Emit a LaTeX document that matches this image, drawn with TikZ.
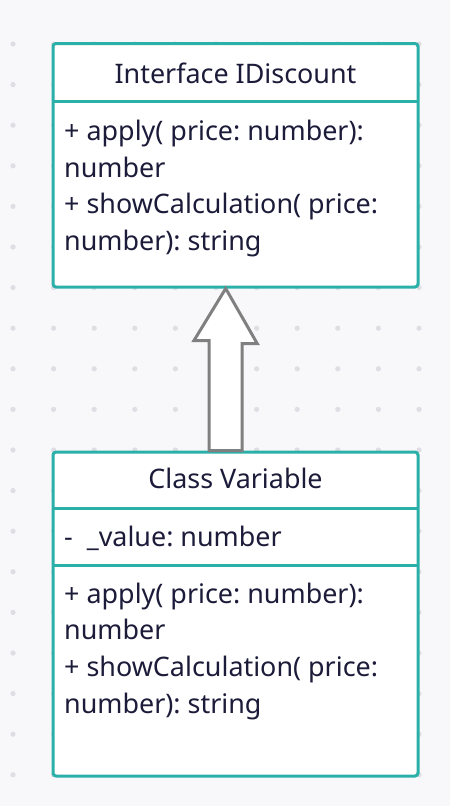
\documentclass[tikz,border=0pt]{standalone}
\usepackage{fontspec}
\setmainfont{Noto Sans}
\usetikzlibrary{calc}
\frenchspacing
\definecolor{bgc}{HTML}{F8F8FA}
\definecolor{dotc}{HTML}{DEDEE4}
\definecolor{teal}{HTML}{2BB0A9}
\definecolor{txt}{HTML}{1C1C3A}
\definecolor{arrowc}{HTML}{808080}
\tikzset{
  umlbox/.style={draw=teal, line width=3pt, fill=white, rounded corners=3pt, inner sep=0pt},
  divider/.style={draw=teal, line width=3pt},
  hdr/.style={font=\fontsize{26.9}{32}\selectfont\frenchspacing, text=txt, anchor=base, inner sep=0pt},
  body/.style={font=\fontsize{26.9}{32}\selectfont\frenchspacing, text=txt, anchor=base west, inner sep=0pt},
  blockarrow/.style={draw=arrowc, line width=3pt, fill=white, line join=miter},
}
\begin{document}
\begin{tikzpicture}[x=1pt,y=-1pt]
\fill[bgc] (0,0) rectangle (450,806);
\useasboundingbox (0,0) rectangle (450,806);
\foreach \i in {0,...,10}{
  \foreach \j in {0,...,18}{
    \fill[dotc] ({13+40.6*\i},{44+40.6*\j}) circle (2.6pt);
  }
}
% interface box
\node[umlbox, minimum width=365pt, minimum height=243.5pt] (iface) at (235.5,165.25) {};
\coordinate (ifdivL) at (53,101);
\coordinate (ifdivR) at (418,101);
\draw[divider] (ifdivL) -- (ifdivR);
\node[hdr] (ifname) at (235.5,83) {Interface IDiscount};
\node[body] (if1) at (64,140) {+ apply( price: number):};
\node[body] (if2) at (64,177) {number};
\node[body] (if3) at (64,213.5) {+ showCalculation( price:};
\node[body] (if4) at (64,250) {number): string};
% class box
\node[umlbox, minimum width=365pt, minimum height=324pt] (cls) at (235.5,614) {};
\coordinate (cdiv1L) at (53,508);
\coordinate (cdiv1R) at (418,508);
\coordinate (cdiv2L) at (53,565);
\coordinate (cdiv2R) at (418,565);
\draw[divider] (cdiv1L) -- (cdiv1R);
\draw[divider] (cdiv2L) -- (cdiv2R);
\node[hdr] (clsname) at (235.5,488) {Class Variable};
\node[body] (attr) at (64,546) {-\ \ \_value: number};
\node[body] (c1) at (64,603) {+ apply( price: number):};
\node[body] (c2) at (64,639.5) {number};
\node[body] (c3) at (64,676.5) {+ showCalculation( price:};
\node[body] (c4) at (64,713) {number): string};
% realization arrow
\coordinate (tip) at ($(iface.south)+(-9.8,0)$);
\draw[blockarrow] (tip) -- ++(31.5,55) -- ++(-15,0) -- ($(cls.north)+(6.5,0)$) -- ($(cls.north)+(-26.5,0)$) -- ++(0,-110) -- ++(-15,0) -- cycle;
\end{tikzpicture}
\end{document}
